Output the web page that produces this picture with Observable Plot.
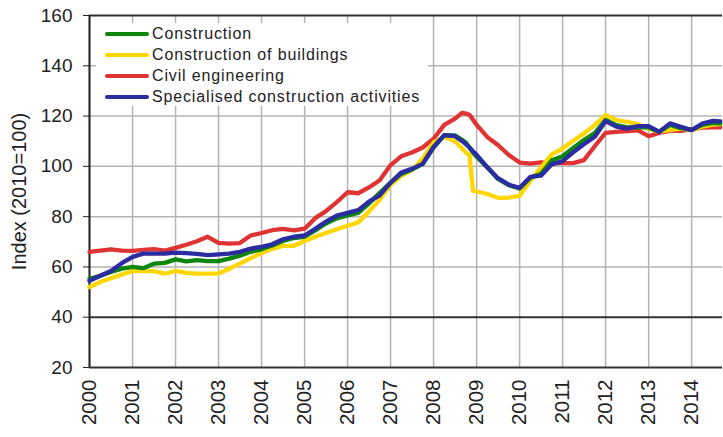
<!DOCTYPE html>
<html><head><meta charset="utf-8">
<script src="https://cdn.jsdelivr.net/npm/d3@7"></script>
<script src="https://cdn.jsdelivr.net/npm/@observablehq/plot@0.6"></script>
<style>
body{margin:0;background:#fff;}
#wrap{position:relative;width:723px;height:437px;overflow:hidden;}
#legend{position:absolute;left:96px;top:23px;width:332px;height:83px;background:#fff;font-family:"Liberation Sans",Arial,sans-serif;font-size:16px;letter-spacing:0.85px;color:#222;}
.row{position:absolute;left:0;height:20px;display:flex;align-items:center;white-space:nowrap;}
.sw{width:44px;height:4px;border-radius:2px;margin-left:9px;margin-right:3px;}
</style></head><body><div id="wrap"><div id="legend"></div></div>
<script>
const months = [
 "2000-01","2000-04","2000-07","2000-10","2001-01","2001-04","2001-07","2001-10",
 "2002-01","2002-04","2002-07","2002-10","2003-01","2003-04","2003-07","2003-10",
 "2004-01","2004-04","2004-07","2004-10","2005-01","2005-04","2005-07","2005-10",
 "2006-01","2006-04","2006-07","2006-10","2007-01","2007-04","2007-07","2007-10",
 "2008-01","2008-04","2008-07","2008-09","2008-10","2008-11","2008-12",
 "2009-01","2009-04","2009-07","2009-10","2010-01","2010-04","2010-07","2010-10",
 "2011-01","2011-04","2011-07","2011-10","2012-01","2012-04","2012-07","2012-10",
 "2013-01","2013-04","2013-07","2013-10","2014-01","2014-04","2014-07","2014-09"];

const seriesNames = ["Construction","Construction of buildings","Civil engineering","Specialised construction activities"];
const seriesColors = ["#0c870c","#ffd700","#e03434","#2c2ca2"];

const construction = [55.3,56.5,58,59.3, 60,59.5,61.3,61.6, 63,62.2,62.7,62.3, 62.3,63.3,64.5,66,
 67,68.5,70.3,71.5, 72,74.5,77.3,79.3, 80.5,81.5,85.2,89.5, 93.5,97,98.7,101,
 107.5,112.4,112.3,110.5,109.5,107.5,105.5, 103.8,99.5,95,92.5, 91.2,95.5,97,102.4,
 104,107.3,110.5,113.2, 118.5,116.4,115.5,115.5, 115.5,113.8,116.5,115.2, 114.5,116.5,117.3,117.1];
const buildings = [52,54,55.5,57, 58.4,58.3,58.3,57.3, 58.4,57.6,57.3,57.3, 57.4,59.3,61.3,63.5,
 65.5,67.2,68.4,68.4, 70.3,72,73.5,75, 76.4,77.7,82,86.7, 92.6,96.2,98.5,103.1,
 109.5,111.7,110,107,105.5,104.5,90.3, 90,89,87.5,87.6, 88.3,94.2,99.5,104.8,
 107.1,110.2,113,116.5, 120.4,118.4,117.7,116.8, 115,113.8,114.4,115, 114.4,115.8,116.6,116.8];
const civil = [66,66.5,67,66.5, 66.4,66.8,67.1,66.5, 67.6,68.8,70.2,72, 69.6,69.3,69.5,72.5,
 73.5,74.6,75.1,74.5, 75.2,79.4,82.2,85.8, 89.7,89.3,91.6,94.5, 100.5,104,105.5,107.5,
 111,116.5,119,121.3,121,120.5,118.5, 116.5,111.7,108.5,104.5, 101.5,101.1,101.6,101.3,
 101.3,101.3,102.5,108, 113.3,113.7,114,114.3, 112,113.3,114.1,114.1, 114.7,115.4,115.5,115.5];
const specialised = [54.5,56.5,58.4,61.5, 64,65.3,65.3,65.3, 65.7,65.5,65.2,64.7, 65,65.3,66,67.3,
 68,69,71,72, 72.5,75.2,78,80.4, 81.5,82.6,86,88.5, 93.5,97.5,99,101,
 107.7,112.4,112,110,108.8,107.5,106, 104.6,99.7,95.3,92.7, 91.5,95.8,96.3,100.8,
 102.1,105.6,108.8,111.8, 118,115.8,115,116, 116,113.7,117.1,115.7, 114.4,117,118.1,117.9];

const yTicks = [20,40,60,80,100,120,140,160];
const yGrid = [60,80,100,120,140];
const yDark = [20,40,160];
const yearTicks = ["2000","2001","2002","2003","2004","2005","2006","2007","2008","2009","2010","2011","2012","2013","2014"];
const xEnd = "2014-09-20";
const yLabel = "Index (2010=100)";

const parse = d3.utcParse("%Y-%m");
const seriesValues = [construction, buildings, civil, specialised];
const drawOrder = [2, 1, 0, 3];
const rows = [];
for (const s of drawOrder) {
  months.forEach((m, i) => rows.push({date: parse(m), value: seriesValues[s][i], series: seriesNames[s]}));
}
const years = yearTicks.map(y => d3.utcParse("%Y")(y));
const xDomain = [years[0], d3.utcParse("%Y-%m-%d")(xEnd)];

const font = "'Liberation Sans', Arial, sans-serif";
const chart = Plot.plot({
  width: 723, height: 437,
  marginLeft: 89, marginTop: 15, marginRight: 1, marginBottom: 70,
  style: {fontFamily: font, color: "#222", background: "#fff"},
  x: {type: "utc", domain: xDomain},
  y: {domain: [20, 160]},
  color: {domain: seriesNames, range: seriesColors},
  marks: [
    Plot.gridX(years, {stroke: "#b4b4b4", strokeOpacity: 1, strokeWidth: 1.5}),
    Plot.gridY(yGrid, {stroke: "#b4b4b4", strokeOpacity: 1, strokeWidth: 1.5}),
    Plot.ruleY(yDark, {stroke: "#333", strokeWidth: 2}),
    Plot.ruleX([xDomain[0]], {stroke: "#222", strokeWidth: 2}),
    Plot.axisY(yTicks, {tickSize: 6, tickPadding: 11, fontSize: 19, stroke: "#222",
      label: yLabel, labelAnchor: "center", labelArrow: "none", labelOffset: 78, fontSize: 19}),
    Plot.axisX(years, {tickSize: 0, tickPadding: 12, tickRotate: -90, tickFormat: "%Y", fontSize: 20.5, label: null}),
    Plot.line(rows, {x: "date", y: "value", z: "series", stroke: "series", strokeWidth: 4.3, strokeLinejoin: "round", curve: "linear"})
  ]
});
const wrap = document.getElementById("wrap");
wrap.insertBefore(chart, wrap.firstChild);
// enlarge only the axis title to match the reference
chart.querySelectorAll("g[aria-label='y-axis label'] text").forEach(t => { t.style.fontSize = "20px"; });

const legend = document.getElementById("legend");
seriesNames.forEach((name, i) => {
  const row = document.createElement("div");
  row.className = "row";
  row.style.top = (1 + 21 * i) + "px";
  const sw = document.createElement("span");
  sw.className = "sw";
  sw.style.background = seriesColors[i];
  const tx = document.createElement("span");
  tx.textContent = name;
  row.appendChild(sw); row.appendChild(tx);
  legend.appendChild(row);
});
</script></body></html>
